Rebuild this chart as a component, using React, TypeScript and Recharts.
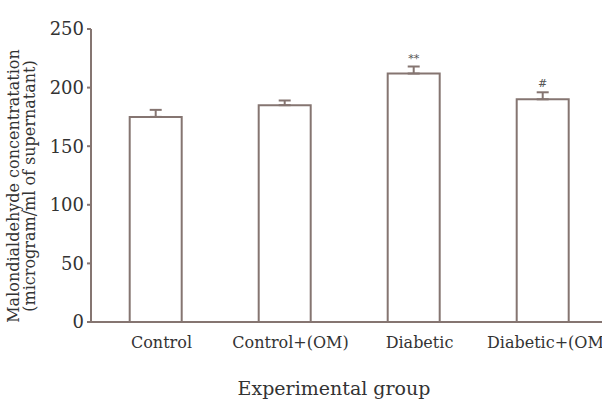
import { Bar, BarChart, ErrorBar, LabelList, XAxis, YAxis } from 'recharts'

const groups = ['Control', 'Control+(OM)', 'Diabetic', 'Diabetic+(OM)']
const means = [175, 185, 212, 190]
const errors = [6, 4, 6, 6]
const marks = ['', '', '**', '#']
const yTicks = [0, 50, 100, 150, 200, 250]

const data = groups.map((group, i) => ({
  group,
  mda: means[i],
  err: [0, errors[i]],
  mark: marks[i],
}))

const AXIS = '#857571'
const FONT = 'DejaVu Serif'

const YLabel = () => (
  <text
    transform="translate(27, 186) rotate(-90)"
    textAnchor="middle"
    fontFamily={FONT}
    fontSize={16}
    fill="#333"
  >
    <tspan x={0} dy={-8}>
      Malondialdehyde concentratation
    </tspan>
    <tspan x={0} dy={16}>
      (microgram/ml of supernatant)
    </tspan>
  </text>
)

export default function App() {
  return (
    <div
      style={{ position: 'fixed', left: 0, top: 0, width: 602, height: 399, overflow: 'hidden', background: '#fff' }}
    >
      <BarChart
        width={610}
        height={399}
        data={data}
        margin={{ top: 29, right: 3, bottom: 0, left: 0 }}
        barCategoryGap="30%"
      >
        <XAxis
          dataKey="group"
          stroke={AXIS}
          strokeWidth={2}
          tickLine={false}
          tick={{ fill: '#333', fontFamily: FONT, fontSize: 16, dx: 6 }}
          tickMargin={9}
          height={77}
          interval={0}
          label={{
            value: 'Experimental group',
            position: 'insideBottom',
            offset: 4,
            fill: '#333',
            fontFamily: FONT,
            fontSize: 19,
            dx: -15,
          }}
        />
        <YAxis
          domain={[0, 250]}
          ticks={yTicks}
          width={91}
          stroke={AXIS}
          strokeWidth={2}
          tickSize={4}
          tickMargin={3}
          tick={{ fill: '#333', fontFamily: FONT, fontSize: 18 }}
          label={<YLabel />}
        />
        <Bar dataKey="mda" fill="#fff" stroke={AXIS} strokeWidth={2} isAnimationActive={false}>
          <ErrorBar dataKey="err" width={6} stroke={AXIS} strokeWidth={2} direction="y" />
          <LabelList dataKey="mark" position="top" offset={12} fill="#555" fontSize={11} fontFamily={FONT} />
        </Bar>
      </BarChart>
    </div>
  )
}
